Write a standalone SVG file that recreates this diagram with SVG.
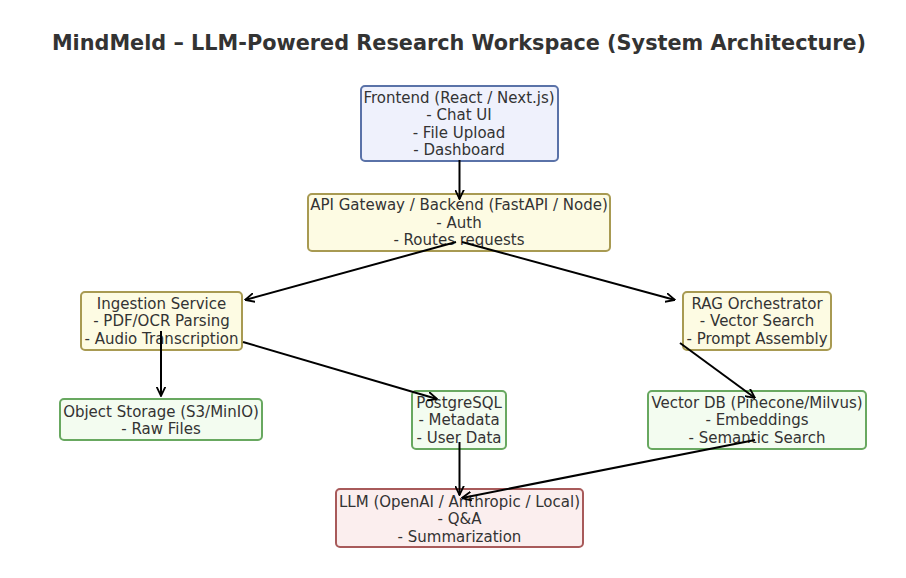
<svg xmlns="http://www.w3.org/2000/svg" width="906" height="578" viewBox="0 0 906 578">
<defs>
<marker id="ah" viewBox="0 0 10 10" refX="9.5" refY="5" markerWidth="10" markerHeight="10" markerUnits="userSpaceOnUse" orient="auto">
<path d="M0,0.5 L9.5,5 L0,9.5" fill="none" stroke="#000" stroke-width="1.8"/>
</marker>
</defs>
<style>
text{font-family:"DejaVu Sans",sans-serif;font-size:15px;fill:#333;text-anchor:middle}
.title{font-size:20.8px;font-weight:bold}
.box{stroke-width:2}
.blue{fill:#eff1fc;stroke:#5a72a8}
.yel{fill:#fdfbe3;stroke:#a89a52}
.grn{fill:#f3fcf0;stroke:#68a860}
.red{fill:#fbeeee;stroke:#a85a5a}
.edge{stroke:#000;stroke-width:2;fill:none;marker-end:url(#ah)}
</style>
<rect width="906" height="578" fill="#fff"/>
<text class="title" x="459" y="50">MindMeld – LLM-Powered Research Workspace (System Architecture)</text>

<g id="frontend">
<rect class="box blue" x="361" y="86" width="197" height="75" rx="4"/>
<text x="459" y="102.5">Frontend (React / Next.js)</text>
<text x="459" y="120">- Chat UI</text>
<text x="459" y="137.5">- File Upload</text>
<text x="459" y="155">- Dashboard</text>
</g>
<g id="api">
<rect class="box yel" x="308" y="194" width="302" height="57" rx="4"/>
<text x="459" y="210">API Gateway / Backend (FastAPI / Node)</text>
<text x="459" y="227.5">- Auth</text>
<text x="459" y="245">- Routes requests</text>
</g>
<g id="ingestion">
<rect class="box yel" x="81" y="292" width="161" height="58" rx="4"/>
<text x="161.5" y="308.5">Ingestion Service</text>
<text x="161.5" y="326">- PDF/OCR Parsing</text>
<text x="161.5" y="343.5">- Audio Transcription</text>
</g>
<g id="rag">
<rect class="box yel" x="683" y="292" width="148" height="58" rx="4"/>
<text x="757" y="308.5">RAG Orchestrator</text>
<text x="757" y="326">- Vector Search</text>
<text x="757" y="343.5">- Prompt Assembly</text>
</g>
<g id="objstore">
<rect class="box grn" x="60" y="399" width="202" height="41" rx="4"/>
<text x="161" y="416.5">Object Storage (S3/MinIO)</text>
<text x="161" y="434">- Raw Files</text>
</g>
<g id="postgres">
<rect class="box grn" x="412" y="391" width="94" height="58" rx="4"/>
<text x="459" y="407.5">PostgreSQL</text>
<text x="459" y="425">- Metadata</text>
<text x="459" y="442.5">- User Data</text>
</g>
<g id="vectordb">
<rect class="box grn" x="648" y="391" width="218" height="58" rx="4"/>
<text x="757" y="407.5">Vector DB (Pinecone/Milvus)</text>
<text x="757" y="425">- Embeddings</text>
<text x="757" y="442.5">- Semantic Search</text>
</g>
<g id="llm">
<rect class="box red" x="336" y="489" width="247" height="58" rx="4"/>
<text x="459.5" y="506.5">LLM (OpenAI / Anthropic / Local)</text>
<text x="459.5" y="524">- Q&amp;A</text>
<text x="459.5" y="541.5">- Summarization</text>
</g>

<g id="connectors">
<line class="edge" x1="459.5" y1="160" x2="459.5" y2="199"/>
<line class="edge" x1="456" y1="242" x2="245" y2="300"/>
<line class="edge" x1="462" y1="242" x2="675" y2="300"/>
<line class="edge" x1="161" y1="331" x2="161" y2="396"/>
<line class="edge" x1="243" y1="342" x2="437" y2="399"/>
<line class="edge" x1="680" y1="343" x2="755" y2="398"/>
<line class="edge" x1="459.5" y1="442" x2="459.5" y2="495"/>
<line class="edge" x1="755" y1="440" x2="462" y2="498"/>
</g>
</svg>
